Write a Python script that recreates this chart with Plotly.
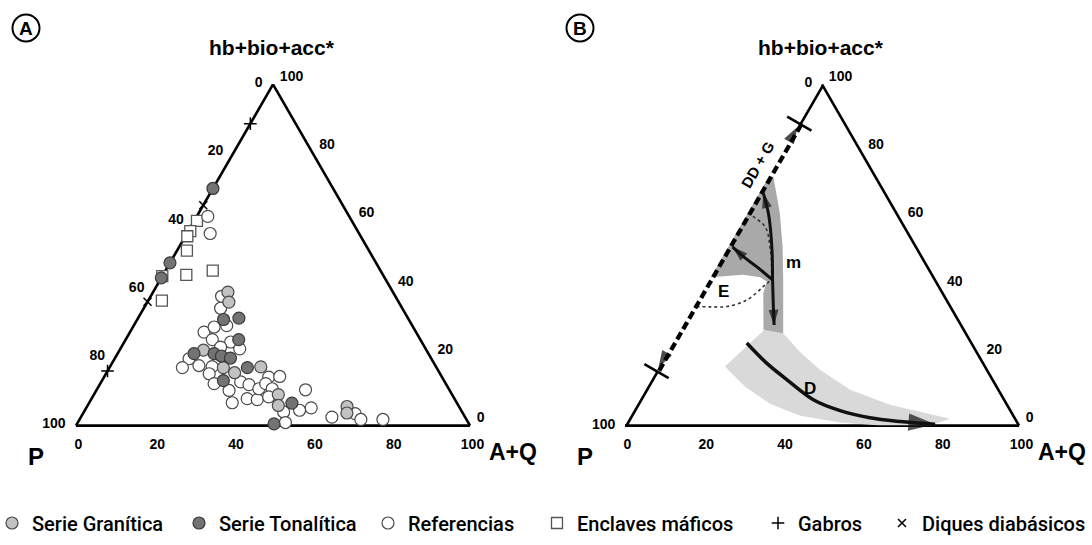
import plotly.graph_objects as go

# ---------------- Panel A data (hb+bio+acc*, A+Q in %; P = 100 - hb - A+Q) ----------------
granitica_hb = [39.1, 36.2, 22.1, 17.0, 15.5, 17.2, 9.1, 5.9, 5.6, 3.7]
granitica_aq = [19.0, 20.7, 21.3, 28.9, 32.5, 38.3, 46.8, 48.4, 66.0, 66.9]

tonalitica_hb = [69.5, 47.7, 43.3, 31.1, 31.5, 25.2, 21.1, 21.1, 20.4, 19.8, 17.0, 13.2, 6.6, 0.5]
tonalitica_aq = [0.0, 0.0, 0.0, 21.9, 25.6, 28.7, 19.4, 24.5, 26.7, 29.3, 35.0, 30.8, 51.5, 50.0]

referencias_hb = [61.3, 56.3, 37.9, 34.4, 29.3, 27.4, 28.9, 25.2, 24.5, 22.5, 23.0, 19.6, 17.0,
                  17.6, 17.3, 15.2, 12.3, 10.3, 6.7, 12.8, 12.0, 7.9, 7.6, 10.8, 14.2, 14.4, 12.3,
                  10.8, 8.4, 4.0, 0.9, 4.5, 5.2, 10.5, 2.5, 3.5, 1.8, 1.8]
referencias_aq = [2.8, 5.9, 18.0, 19.5, 23.6, 18.8, 20.6, 22.0, 27.0, 30.3, 25.2, 18.9, 18.5,
                  22.4, 25.9, 26.2, 28.9, 33.7, 36.3, 35.4, 37.9, 39.5, 42.2, 41.0, 41.8, 44.5, 42.0,
                  44.4, 44.7, 50.7, 52.7, 54.5, 57.1, 53.0, 63.7, 69.1, 71.4, 77.0]

enclaves_hb = [60.0, 57.0, 55.5, 51.3, 44.2, 45.4, 43.8, 36.6]
enclaves_aq = [0.7, 0.5, 0.5, 2.5, 5.9, 12.0, 0.0, 3.5]

gabros_hb = [88.5, 16.0]
gabros_aq = [0.0, 0.0]

diques_hb = [64.6, 36.3]
diques_aq = [0.0, 0.0]

# ---------------- Panel B data ----------------
ddg_hb = [88.5, 16.0]          # range of DD + G along the P-hb edge
ddg_aq = [0.0, 0.0]
edge_top_hb = [100.0, 88.5]    # solid parts of the P-hb edge
edge_bottom_hb = [16.0, 0.0]

dark_field_hb = [72.9, 72.9, 62.2, 52.4, 42.7, 27.1, 28.1, 38.8, 42.2, 43.5, 44.2, 43.9, 43.5]
dark_field_aq = [0.0, 1.2, 8.2, 13.8, 18.8, 26.6, 21.1, 15.7, 14.9, 12.5, 8.0, 4.7, 0.0]

light_field_hb = [17.3, 30.5, 27.1, 21.6, 16.4, 10.5, 6.1, 2.0, 0.0, 0.0, 0.9, 2.9, 6.4, 11.4]
light_field_aq = [16.7, 22.4, 26.6, 33.6, 41.3, 51.9, 64.2, 81.5, 77.4, 64.7, 54.1, 43.0, 33.6, 24.8]

e_curve_hb = [62.2, 58.3, 52.4, 46.6, 42.7, 40.7, 36.8, 34.9, 34.8, 34.9]
e_curve_aq = [0.0, 6.4, 10.6, 13.9, 15.5, 14.7, 12.5, 8.4, 4.4, 0.0]

m_up_hb = [42.7, 50.5, 57.3, 62.2, 68.2]
m_up_aq = [16.1, 12.1, 8.3, 5.3, 1.0]
m_down_hb = [42.7, 34.9, 29.5]
m_down_aq = [16.1, 20.2, 23.1]
m_left_hb = [42.7, 46.6, 49.5, 52.4]
m_left_aq = [16.1, 10.1, 5.3, 1.1]

d_hb = [24.2, 18.3, 13.5, 7.6, 4.4, 2.3, 1.2, 0.4]
d_aq = [18.8, 26.8, 34.3, 44.0, 52.4, 61.0, 69.2, 78.5]

ddg_arrow_up_hb = [80.0, 87.6]
ddg_arrow_down_hb = [25.0, 17.0]

tick_vals = [0, 20, 40, 60, 80, 100]
tick_text = [str(100 - v) for v in tick_vals]
tick_text_b_left = ["100", "", "", "", "", "0"]

legend_names = ["Serie Granítica", "Serie Tonalítica", "Referencias",
                "Enclaves máficos", "Gabros", "Diques diabásicos"]
legend_mid_x = [22, 209, 398, 567, 788, 912]   # midpoint between symbol and text start

W, H = 1092, 545
FONT = "Liberation Sans, Arial, sans-serif"
LEGFONT = "Roboto, Liberation Sans, sans-serif"


def p(hb, aq):
    return [100 - h - q for h, q in zip(hb, aq)]


fig = go.Figure()

EDGE = "#4a4a4a"


def add_pts(hb, aq, sub, **kw):
    fig.add_trace(go.Scatterternary(a=hb, b=p(hb, aq), c=aq, subplot=sub, mode="markers",
                                    cliponaxis=False, hoverinfo="skip", **kw))


# Panel A
add_pts(enclaves_hb, enclaves_aq, "ternary", name=legend_names[3], legend="legend4",
        marker=dict(symbol="square", size=11, color="white", line=dict(color="#555555", width=1.3)))
add_pts(referencias_hb, referencias_aq, "ternary", name=legend_names[2], legend="legend3",
        marker=dict(symbol="circle", size=12, color="white", line=dict(color=EDGE, width=1.2)))
add_pts(granitica_hb, granitica_aq, "ternary", name=legend_names[0], legend="legend",
        marker=dict(symbol="circle", size=12, color="#c2c2c2", line=dict(color=EDGE, width=1.2)))
add_pts(tonalitica_hb, tonalitica_aq, "ternary", name=legend_names[1], legend="legend2",
        marker=dict(symbol="circle", size=12, color="#737373", line=dict(color="#3a3a3a", width=1.2)))
add_pts(gabros_hb, gabros_aq, "ternary", name=legend_names[4], legend="legend5",
        marker=dict(symbol="cross-thin", size=9, line=dict(color="black", width=1.5)))
add_pts(diques_hb, diques_aq, "ternary", name=legend_names[5], legend="legend6",
        marker=dict(symbol="x-thin", size=8, line=dict(color="black", width=1.5)))


# Panel B
def add_b(hb, aq, **kw):
    fig.add_trace(go.Scatterternary(a=hb, b=p(hb, aq), c=aq, subplot="ternary2",
                                    cliponaxis=False, showlegend=False, hoverinfo="skip", **kw))


add_b(light_field_hb, light_field_aq, mode="lines", fill="toself", fillcolor="#d9d9d9",
      line=dict(width=0, color="#d9d9d9"))
add_b(dark_field_hb, dark_field_aq, mode="lines", fill="toself", fillcolor="#a9a9a9",
      line=dict(width=0, color="#a9a9a9"))
add_b(e_curve_hb, e_curve_aq, mode="lines", line=dict(color="#333333", width=1.6, dash="dot", shape="spline"))

# P-hb edge of panel B: solid ends, dashed DD + G range (lines are clipped to the triangle,
# so they are drawn double width to keep the inner half)
for seg in (edge_top_hb, edge_bottom_hb):
    add_b(seg, [0.0, 0.0], mode="lines", line=dict(color="black", width=5.2))
add_b(ddg_hb, ddg_aq, mode="lines", line=dict(color="black", width=8.5, dash="8px,4px"))
add_b(ddg_hb, ddg_aq, mode="markers",
      marker=dict(symbol="line-ew", size=20, angle=30, line=dict(color="black", width=2.6)))
for arr in (ddg_arrow_up_hb, ddg_arrow_down_hb):
    add_b(arr, [0.0, 0.0], mode="markers",
          marker=dict(symbol="arrow", size=[0, 18], angleref="previous", color="black",
                      line=dict(width=0)))

# arrows m
for hb, aq in ((m_up_hb, m_up_aq), (m_down_hb, m_down_aq), (m_left_hb, m_left_aq)):
    add_b(hb, aq, mode="lines+markers",
          line=dict(color="#111111", width=3, shape="spline"),
          marker=dict(symbol="arrow", size=[0] * (len(hb) - 1) + [16], angleref="previous",
                      color="#111111", line=dict(width=0)))

# arrow D
add_b(d_hb, d_aq, mode="lines+markers",
      line=dict(color="#111111", width=3.5, shape="spline"),
      marker=dict(symbol="arrow", size=[0] * (len(d_hb) - 1) + [28], angleref="previous",
                  color="#111111", line=dict(width=0)))


def axis(text=tick_text, showline=True, ticklen=7):
    return dict(showgrid=False, showline=showline, linecolor="black", linewidth=2.6,
                ticks="outside", ticklen=ticklen, tickcolor="rgba(0,0,0,0)",
                tickmode="array", tickvals=tick_vals, ticktext=text,
                tickfont=dict(family=FONT, size=14, color="black", weight="bold"),
                layer="below traces", title=dict(text=""))


def tern(cx, left_text=tick_text, left_line=True):
    half = 197.0
    yc = 1 - 255.0 / H
    return dict(domain=dict(x=[(cx - half) / W, (cx + half) / W], y=[yc - 176 / H, yc + 176 / H]),
                sum=100, bgcolor="white",
                aaxis=axis(left_text, left_line), baxis=axis(ticklen=5), caxis=axis())


annotations = []


def ann(text, x, y, size, angle=0, family=FONT):
    annotations.append(dict(text=text, x=x / W, y=1 - y / H, xref="paper", yref="paper",
                            xanchor="center", yanchor="middle",
                            showarrow=False, textangle=angle,
                            font=dict(family=family, size=size, color="black")))


for off in (0, 549):
    ann("<b>hb+bio+acc*</b>", 272 + off, 47, 21)
    ann("<b>P</b>", 36 + off, 456, 24)
    ann("<b>A+Q</b>", 513 + off, 452, 23)
ann("<b>A</b>", 26, 28, 19)
ann("<b>B</b>", 580, 28, 19)
ann("<b>DD + G</b>", 758, 165, 15, angle=-60)
ann("<b>m</b>", 793, 262, 17)
ann("<b>E</b>", 723, 291, 17)
ann("<b>D</b>", 810, 388, 17)

shapes = []
for cx in (26, 580):
    r = 13.5
    shapes.append(dict(type="circle", xref="paper", yref="paper",
                       x0=(cx - r) / W, x1=(cx + r) / W, y0=1 - (28 + r) / H, y1=1 - (28 - r) / H,
                       line=dict(color="black", width=2)))

legends = {}
for i, mx in enumerate(legend_mid_x):
    key = "legend" if i == 0 else f"legend{i + 1}"
    legends[key] = dict(x=(mx - 30) / W, y=1 - 523 / H, xanchor="left", yanchor="middle",
                        orientation="h", bgcolor="rgba(0,0,0,0)", borderwidth=0,
                        font=dict(family=LEGFONT, size=20, color="black", weight=500))

fig.update_layout(
    width=W, height=H, margin=dict(l=0, r=0, t=0, b=0, autoexpand=False),
    paper_bgcolor="white", plot_bgcolor="white",
    ternary=tern(273), ternary2=tern(822, tick_text_b_left, left_line=False),
    annotations=annotations, shapes=shapes,
    **legends,
)

fig.write_html("out.html")
